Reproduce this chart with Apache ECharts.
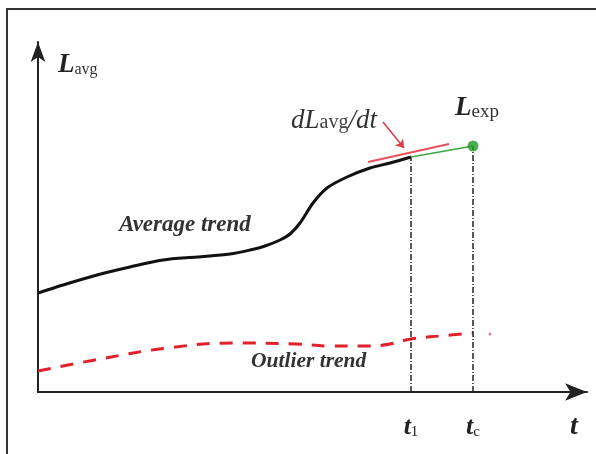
<!DOCTYPE html>
<html>
<head>
<meta charset="utf-8">
<script src="https://cdn.jsdelivr.net/npm/echarts@6/dist/echarts.min.js"></script>
<style>
html,body{margin:0;padding:0;background:#fff;}
#c{width:596px;height:454px;}
</style>
</head>
<body>
<div id="c"></div>
<script>
// Time positions (arbitrary units) and trend values
const avgT = [0, 25, 59, 92, 125, 159, 192, 212, 227, 242, 252, 262, 275, 289, 309, 332, 352, 373];
const avgL = [99, 107, 117, 125, 132, 135, 138, 142, 146, 152, 158, 169, 189, 204, 215, 224, 229, 235];
const outT = [0, 62, 129, 195, 258, 292, 331, 352, 373, 402, 435];
const outL = [21, 33, 44, 49, 48, 46, 46, 48, 53, 56, 59];
const t1 = 373, tc = 435;
const L1 = 235, Lexp = 246;
const tangentT = [330, 411];
const tangentL = [230, 248];
const arrowFrom = [345, 270], arrowTo = [366, 244];
const outlierDot = [452, 58];
const tickVals = [t1, tc];
const tickLabels = ['{t|t}{s|1}', '{t|t}{s|c}'];

const serif = '"Liberation Serif", "DejaVu Serif", serif';
const chart = echarts.init(document.getElementById('c'), null, {renderer: 'canvas'});

function pairs(xs, ys){ return xs.map((x,i)=>[x, ys[i]]); }

chart.setOption({
  animation: false,
  backgroundColor: '#fff',
  grid: {left: 38, right: 9, top: 42, bottom: 62},
  xAxis: {
    type: 'value', min: 0, max: 549,
    splitLine: {show: false},
    axisTick: {show: false},
    axisLine: {show: true, symbol: ['none', 'arrow'], symbolSize: [13, 22], lineStyle: {color: '#222', width: 2}},
    axisLabel: {
      customValues: tickVals,
      margin: 22,
      formatter: function(v){ return v === t1 ? tickLabels[0] : (v === tc ? tickLabels[1] : ''); },
      rich: {
        t: {fontFamily: serif, fontStyle: 'italic', fontWeight: 'bold', fontSize: 26, color: '#222'},
        s: {fontFamily: serif, fontSize: 15, color: '#222', padding: [10, 0, 0, 0]}
      }
    }
  },
  yAxis: {
    type: 'value', min: 0, max: 350,
    splitLine: {show: false},
    axisTick: {show: false},
    axisLabel: {show: false},
    axisLine: {show: true, symbol: ['none', 'arrow'], symbolSize: [11, 20], lineStyle: {color: '#222', width: 2}}
  },
  series: [
    {
      type: 'line', data: pairs(avgT, avgL), smooth: 0.3, showSymbol: false,
      lineStyle: {color: '#111', width: 3}, z: 5
    },
    {
      type: 'line', data: pairs(outT, outL), smooth: 0.4, showSymbol: false,
      lineStyle: {color: '#e0202a', width: 3, type: [13, 10]}
    },
    {
      type: 'line', data: [[t1, 0], [t1, L1]], showSymbol: false,
      lineStyle: {color: '#222', width: 1.5, type: [6, 2, 1, 2]}
    },
    {
      type: 'line', data: [[tc, 0], [tc, Lexp]], showSymbol: false,
      lineStyle: {color: '#222', width: 1.5, type: [6, 2, 1, 2]}
    },
    {
      type: 'line', data: pairs(tangentT, tangentL), showSymbol: false,
      lineStyle: {color: '#e8505a', width: 2}, z: 4
    },
    {
      type: 'line', data: [[t1, L1], [tc, Lexp]], showSymbol: false,
      lineStyle: {color: '#3aa83a', width: 1.5}, z: 6,
      markLine: {
        silent: true, symbol: ['none', 'arrow'], symbolSize: 8,
        lineStyle: {color: '#d83a4a', width: 1.5, type: 'solid'},
        label: {show: false},
        data: [[{coord: arrowFrom}, {coord: arrowTo}]]
      }
    },
    {
      type: 'scatter', data: [[tc, Lexp]], symbolSize: 11,
      itemStyle: {color: '#1f9a25'}, z: 7
    },
    {
      type: 'scatter', data: [outlierDot], symbolSize: 3,
      itemStyle: {color: '#e06070'}
    }
  ],
  graphic: [
    {type: 'polyline', shape: {points: [[7, 454], [7, 9], [596, 9]]}, style: {stroke: '#333', lineWidth: 2, fill: null}},
    {type: 'text', left: 58, top: 52, style: {
      text: '{L|L}{s|avg}', rich: {
        L: {fontFamily: serif, fontStyle: 'italic', fontWeight: 'bold', fontSize: 27, fill: '#222'},
        s: {fontFamily: serif, fontSize: 16, fill: '#333', padding: [8, 0, 0, 0]}
      }}},
    {type: 'text', left: 291, top: 107, style: {
      text: '{i|dL}{s|avg}{i|/dt}', rich: {
        i: {fontFamily: serif, fontStyle: 'italic', fontSize: 27, fill: '#333'},
        s: {fontFamily: serif, fontSize: 20, fill: '#444', padding: [5, 0, 0, 0]}
      }}},
    {type: 'text', left: 455, top: 95, style: {
      text: '{L|L}{s|exp}', rich: {
        L: {fontFamily: serif, fontStyle: 'italic', fontWeight: 'bold', fontSize: 27, fill: '#222'},
        s: {fontFamily: serif, fontSize: 19, fill: '#333', padding: [8, 0, 0, 0]}
      }}},
    {type: 'text', left: 119, top: 214, style: {
      text: 'Average trend', fontFamily: serif, fontStyle: 'italic', fontWeight: 'bold', fontSize: 23, fill: '#333'}},
    {type: 'text', left: 251, top: 350, style: {
      text: 'Outlier trend', fontFamily: serif, fontStyle: 'italic', fontWeight: 'bold', fontSize: 21.5, fill: '#333'}},
    {type: 'text', left: 570, top: 413, style: {
      text: 't', fontFamily: serif, fontStyle: 'italic', fontWeight: 'bold', fontSize: 28, fill: '#222'}}
  ]
});
</script>
</body>
</html>
